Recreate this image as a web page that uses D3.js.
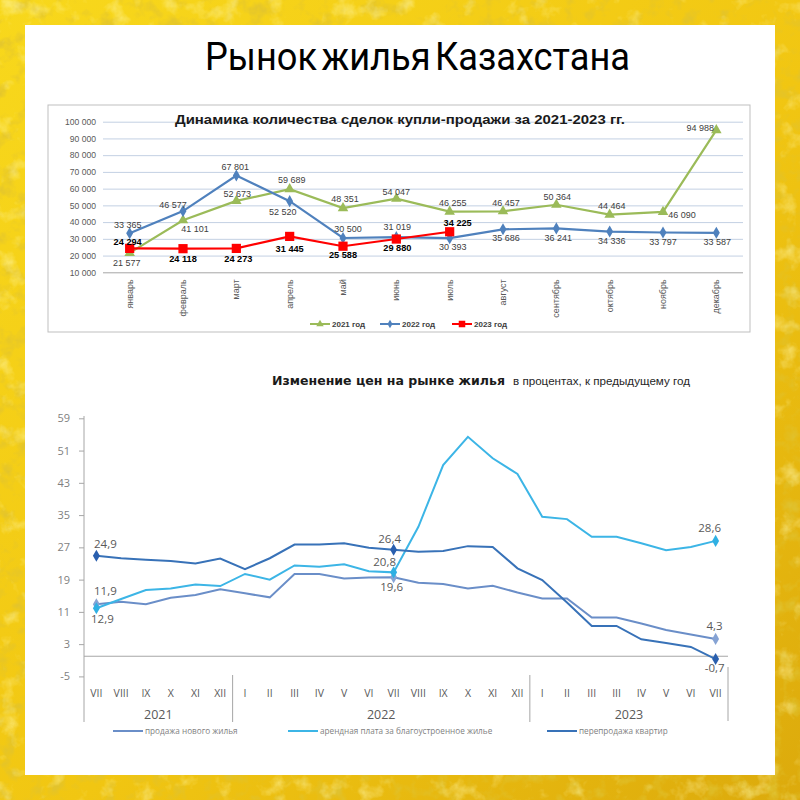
<!DOCTYPE html>
<html><head><meta charset="utf-8">
<script src="https://cdn.jsdelivr.net/npm/d3@7"></script>
<style>body{margin:0;background:#fff}svg{display:block}</style>
</head><body>
<svg id="c" width="800" height="800"></svg>
<script>
// ---------- DATA: chart 1 ----------
const months = ["январь","февраль","март","апрель","май","июнь","июль","август","сентябрь","октябрь","ноябрь","декабрь"];
const deals2021 = [21577,41101,52673,59689,48351,54047,46255,46457,50364,44464,46090,94988];
const deals2022 = [33365,46577,67801,52520,30500,31019,30393,35686,36241,34336,33797,33587];
const deals2023 = [24294,24118,24273,31445,25588,29880,34225];
const dealTicks = [10000,20000,30000,40000,50000,60000,70000,80000,90000,100000];
const seriesNames1 = ["2021 год","2022 год","2023 год"];

// ---------- DATA: chart 2 ----------
const periodLabels = ["VII","VIII","IX","X","XI","XII","I","II","III","IV","V","VI","VII","VIII","IX","X","XI","XII","I","II","III","III","IV","V","VI","VII"];
const yearGroups = ["2021","2022","2023"];
const yearGroupSizes = [6,12,8];
const priceNew = [12.9,13.5,12.9,14.5,15.2,16.6,15.6,14.6,20.4,20.4,19.3,19.5,19.6,18.2,17.9,16.8,17.5,15.8,14.3,14.3,9.6,9.6,8.1,6.5,5.4,4.3];
const priceRent = [11.9,14.2,16.4,16.8,17.8,17.4,20.4,19.0,22.5,22.2,22.8,21.1,20.8,32.1,47.4,54.4,49.1,45.2,34.6,34.0,29.6,29.6,28.0,26.3,27.1,28.6];
const priceResale = [24.9,24.3,23.9,23.6,23.0,24.2,21.6,24.3,27.7,27.7,28.0,26.9,26.4,25.9,26.1,27.3,27.1,21.8,18.9,13.3,7.5,7.5,4.2,3.3,2.3,-0.7];
const priceTicks = [59,51,43,35,27,19,11,3,-5];
const seriesNames2 = ["продажа нового жилья","арендная плата за благоустроенное жилье","перепродажа квартир"];
const labeledIdx = [0,12,25];

// ---------- label placement (style, not data) ----------
const off2021 = [[-3,10],[12,9],[1,-7],[2,-9],[2,-9],[0,-7],[3,-9],[3,-8],[1,-8],[2,-9],[19,3],[-16,-2]];
const off2022 = [[-2,-8],[-10,-6],[-1,-9],[-7,11],[5,-9],[1,-10],[3,9],[3,9],[2,9],[2,9],[0,9],[1,9]];
const off2023 = [[-2,-7],[0,10],[2,10],[0,12],[0,9],[1,9],[8,-9]];
const offNew = {0:[6,15],12:[-2,10],25:[-1,-13]};
const offRent = {0:[9,-17],12:[-9,-10],25:[-6,-13]};
const offResale = {0:[9,-12],12:[-4,-11],25:[-1,9]};

const svg = d3.select("#c");
const defs = svg.append("defs");

// ---------- gold background ----------
const lg = defs.append("linearGradient").attr("id","gold").attr("x1",0).attr("y1",0).attr("x2",1).attr("y2",1);
lg.append("stop").attr("offset",0).attr("stop-color","#f8d81c");
lg.append("stop").attr("offset",0.55).attr("stop-color","#f1c612");
lg.append("stop").attr("offset",1).attr("stop-color","#dcaa0c");
const f1 = defs.append("filter").attr("id","hi").attr("x",0).attr("y",0).attr("width","100%").attr("height","100%");
f1.append("feTurbulence").attr("type","fractalNoise").attr("baseFrequency","0.045").attr("numOctaves",4).attr("seed",5);
f1.append("feColorMatrix").attr("type","matrix").attr("values","0 0 0 0 1  0 0 0 0 0.93  0 0 0 0 0.4  1.6 0 0 0 -0.9");
const f2 = defs.append("filter").attr("id","lo").attr("x",0).attr("y",0).attr("width","100%").attr("height","100%");
f2.append("feTurbulence").attr("type","fractalNoise").attr("baseFrequency","0.06").attr("numOctaves",4).attr("seed",11);
f2.append("feColorMatrix").attr("type","matrix").attr("values","0 0 0 0 0.74  0 0 0 0 0.54  0 0 0 0 0.03  -2.4 0 0 0 1.2");
svg.append("rect").attr("width",800).attr("height",800).attr("fill","url(#gold)");
svg.append("rect").attr("width",800).attr("height",800).attr("filter","url(#lo)");
svg.append("rect").attr("width",800).attr("height",800).attr("filter","url(#hi)");
svg.append("rect").attr("x",25).attr("y",25).attr("width",750).attr("height",750).attr("fill","#fff");

// main title
svg.append("text").attr("x",205).attr("y",70).attr("textLength",425).attr("lengthAdjust","spacingAndGlyphs")
  .attr("word-spacing",-5)
  .attr("font-family","Roboto").attr("font-size",39).attr("fill","#000").text("Рынок жилья Казахстана");

// ================= CHART 1 =================
const numFmt = v => d3.format(",")(v).replace(/,/g," ");
const g1 = svg.append("g");
g1.append("rect").attr("x",48).attr("y",105).attr("width",702).attr("height",227)
  .attr("fill","#fff").attr("stroke","#bfbfbf").attr("stroke-width",1);
const x1 = d3.scaleBand().domain(months).range([103,743]);
const cx1 = m => x1(m) + x1.bandwidth()/2;
const y1 = d3.scaleLinear().domain([10000,100000]).range([272.3,121.7]);

// grid + y labels
const yAx1 = g1.append("g").attr("transform","translate(103,0)")
  .call(d3.axisLeft(y1).tickValues(dealTicks).tickSize(-640).tickFormat(numFmt));
yAx1.select(".domain").remove();
yAx1.selectAll(".tick line").attr("stroke",d => d===10000 ? "#a6a6a6" : "#c3d0e3").attr("stroke-width",1);
yAx1.selectAll(".tick text").attr("x",-7).attr("font-family","Liberation Sans").attr("font-size",8.6).attr("fill","#595959");

// month labels
const xAx1 = g1.append("g").attr("transform","translate(0,272.3)")
  .call(d3.axisBottom(x1).tickSize(0));
xAx1.select(".domain").remove();
xAx1.selectAll(".tick text").attr("transform","rotate(-90)").attr("text-anchor","end")
  .attr("x",-7).attr("y",0).attr("dy","0.33em")
  .attr("font-family","Liberation Sans").attr("font-size",9).attr("fill","#595959");

g1.append("text").attr("x",400).attr("y",124).attr("text-anchor","middle")
  .attr("textLength",450).attr("lengthAdjust","spacingAndGlyphs")
  .attr("font-family","Liberation Sans").attr("font-weight","bold").attr("font-size",13.5).attr("fill","#1a1a1a")
  .text("Динамика количества сделок купли-продажи за 2021-2023 гг.");

const s1 = [
  {name:seriesNames1[0], vals:deals2021, color:"#9bbb59", sym:d3.symbolTriangle, size:48, off:off2021, bold:false},
  {name:seriesNames1[1], vals:deals2022, color:"#4f81bd", sym:d3.symbolDiamond, size:42, off:off2022, bold:false},
  {name:seriesNames1[2], vals:deals2023, color:"#ff0000", sym:d3.symbolSquare, size:85, off:off2023, bold:true}
];
const line1 = d3.line().x((d,i)=>cx1(months[i])).y(d=>y1(d));
s1.forEach(s=>{
  g1.append("path").attr("d",line1(s.vals)).attr("fill","none").attr("stroke",s.color).attr("stroke-width",2.2);
  g1.selectAll(null).data(s.vals).enter().append("path")
    .attr("d",d3.symbol().type(s.sym).size(s.size))
    .attr("transform",(d,i)=>`translate(${cx1(months[i])},${y1(d)})`).attr("fill",s.color);
});
s1.forEach(s=>{
  g1.selectAll(null).data(s.vals).enter().append("text")
    .attr("x",(d,i)=>cx1(months[i])+s.off[i][0]).attr("y",(d,i)=>y1(d)+s.off[i][1])
    .attr("dy","0.35em").attr("text-anchor","middle")
    .attr("font-family","Liberation Sans").attr("font-size",s.bold?9.2:9)
    .attr("font-weight",s.bold?"bold":"normal").attr("fill",s.bold?"#000":"#404040")
    .text(d=>numFmt(d));
});
// legend chart 1
const leg1x = [310,380,452];
s1.forEach((s,k)=>{
  const lx = leg1x[k], ly = 324;
  g1.append("line").attr("x1",lx).attr("x2",lx+20).attr("y1",ly).attr("y2",ly).attr("stroke",s.color).attr("stroke-width",2);
  g1.append("path").attr("d",d3.symbol().type(s.sym).size(s.size*0.5)).attr("transform",`translate(${lx+10},${ly})`).attr("fill",s.color);
  g1.append("text").attr("x",lx+22).attr("y",ly).attr("dy","0.35em").attr("font-family","Liberation Sans")
    .attr("font-size",8).attr("font-weight","bold").attr("fill","#404040").text(s.name);
});

// ================= CHART 2 =================
const g2 = svg.append("g");
const idx = d3.range(periodLabels.length);
const x2 = d3.scaleBand().domain(idx).range([84,728]);
const cx2 = i => x2(i) + x2.bandwidth()/2;
const y2 = d3.scaleLinear().domain([-5,59]).range([676.4,418.3]);
const pctFmt = v => d3.format(".1f")(v).replace("−","-").replace(".",",");

g2.append("text").attr("x",272).attr("y",385).attr("textLength",233).attr("lengthAdjust","spacingAndGlyphs")
  .attr("font-family","DejaVu Sans").attr("font-weight","bold").attr("font-size",12).attr("fill","#1a1a1a")
  .text("Изменение цен на рынке жилья");
g2.append("text").attr("x",513).attr("y",385).attr("textLength",177).attr("lengthAdjust","spacingAndGlyphs")
  .attr("font-family","Liberation Sans").attr("font-size",10.5).attr("fill","#262626")
  .text("в процентах, к предыдущему год");

// y axis
const yAx2 = g2.append("g").attr("transform","translate(84,0)")
  .call(d3.axisLeft(y2).tickValues(priceTicks).tickSize(5).tickFormat(v=>String(v)));
yAx2.select(".domain").remove();
yAx2.selectAll(".tick line").attr("stroke","#a6a6a6");
yAx2.selectAll(".tick text").attr("x",-14).attr("font-family","Open Sans").attr("font-size",11).attr("fill","#7f7f7f");
g2.append("line").attr("x1",84).attr("x2",84).attr("y1",416).attr("y2",722).attr("stroke","#a6a6a6");
// zero line
g2.append("line").attr("x1",84).attr("x2",728).attr("y1",y2(0)).attr("y2",y2(0)).attr("stroke","#a6a6a6");

// category labels
const xAx2 = g2.append("g").attr("transform","translate(0,693)")
  .call(d3.axisBottom(x2).tickSize(0).tickFormat(i=>periodLabels[i]));
xAx2.select(".domain").remove();
xAx2.selectAll(".tick text").attr("y",0).attr("dy","0.35em").attr("font-family","Open Sans").attr("font-size",10.5).attr("fill","#595959");

// year groups
let start = 0;
yearGroups.forEach((yr,k)=>{
  const a = x2(start), b = x2(start+yearGroupSizes[k]-1)+x2.bandwidth();
  g2.append("text").attr("x",(a+b)/2).attr("y",715).attr("dy","0.35em").attr("text-anchor","middle")
    .attr("font-family","Open Sans").attr("font-size",12.5).attr("fill","#595959").text(yr);
  if (k>0) g2.append("line").attr("x1",a).attr("x2",a).attr("y1",675).attr("y2",722).attr("stroke","#a6a6a6");
  if (k===yearGroups.length-1) g2.append("line").attr("x1",b).attr("x2",b).attr("y1",667).attr("y2",721).attr("stroke","#a6a6a6");
  start += yearGroupSizes[k];
});

const s2 = [
  {name:seriesNames2[0], vals:priceNew, color:"#6a8ec8", mk:"#86a3d4", off:offNew, legX:113},
  {name:seriesNames2[1], vals:priceRent, color:"#3cb5e6", mk:"#2fb0e3", off:offRent, legX:288},
  {name:seriesNames2[2], vals:priceResale, color:"#3872b8", mk:"#2a5fae", off:offResale, legX:547}
];
const line2 = d3.line().x((d,i)=>cx2(i)).y(d=>y2(d));
s2.forEach(s=>{
  g2.append("path").attr("d",line2(s.vals)).attr("fill","none").attr("stroke",s.color).attr("stroke-width",2);
});
s2.forEach(s=>{
  g2.selectAll(null).data(labeledIdx).enter().append("path")
    .attr("d",d3.symbol().type(d3.symbolDiamond).size(42))
    .attr("transform",i=>`translate(${cx2(i)},${y2(s.vals[i])})`).attr("fill",s.mk);
  g2.selectAll(null).data(labeledIdx).enter().append("text")
    .attr("x",i=>cx2(i)+s.off[i][0]).attr("y",i=>y2(s.vals[i])+s.off[i][1]).attr("dy","0.35em")
    .attr("text-anchor","middle").attr("font-family","Open Sans").attr("font-size",11.5).attr("fill","#595959")
    .text(i=>pctFmt(s.vals[i]));
  g2.append("line").attr("x1",s.legX).attr("x2",s.legX+30).attr("y1",731).attr("y2",731).attr("stroke",s.color).attr("stroke-width",2);
  g2.append("text").attr("x",s.legX+32).attr("y",731).attr("dy","0.35em").attr("font-family","Open Sans")
    .attr("font-size",8.2).attr("fill","#7f7f7f").text(s.name);
});
</script>
</body></html>
